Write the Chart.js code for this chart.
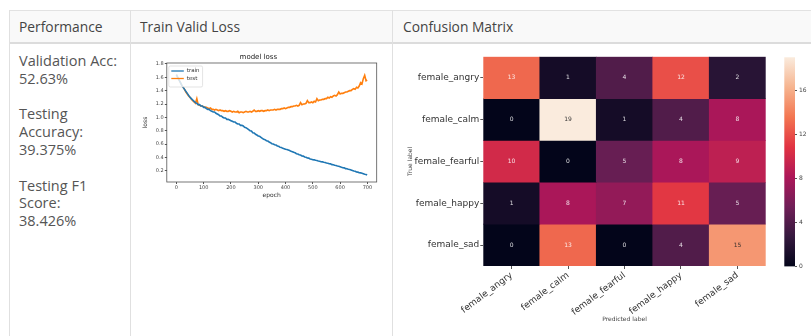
<!DOCTYPE html>
<html><head><meta charset="utf-8">
<script src="https://cdn.jsdelivr.net/npm/chart.js@4.4.1/dist/chart.umd.min.js"></script>
<style>
html,body{margin:0;padding:0;background:#fff;width:811px;height:336px;overflow:hidden;font-family:"Open Sans",sans-serif;}
.abs{position:absolute;}
.hdr{left:9px;top:10px;width:820px;height:31px;background:#f9f9f9;border-top:1px solid #e2e2e2;border-bottom:2px solid #dcdcdc;}
.vl{top:10px;width:1px;height:340px;background:#e0e0e0;}
.ht{top:11px;height:31px;line-height:31px;font-size:13.8px;color:#444;white-space:nowrap;}
.perf{left:19px;top:52px;font-size:14.5px;line-height:17.8px;color:#555;white-space:nowrap;}
canvas{position:absolute;}
</style></head>
<body>
<div class="abs hdr"></div>
<div class="abs vl" style="left:9px"></div>
<div class="abs vl" style="left:130px"></div>
<div class="abs vl" style="left:392px"></div>
<div class="abs ht" style="left:19px" id="h0"></div>
<div class="abs ht" style="left:140px" id="h1"></div>
<div class="abs ht" style="left:403px" id="h2"></div>
<div class="abs perf" id="perf"></div>
<canvas id="loss" width="245" height="160" style="left:140px;top:50px"></canvas>
<canvas id="cm" width="380" height="292" style="left:393px;top:44px"></canvas>
<canvas id="cbar" width="33" height="225" style="left:778px;top:50px"></canvas>
<script>
// ---------- data ----------
const columnHeaders = ['Performance', 'Train Valid Loss', 'Confusion Matrix'];
const metricLines = [['Validation Acc:', '52.63%'], ['Testing', 'Accuracy:', '39.375%'], ['Testing F1', 'Score:', '38.426%']];

const epochs = [0,5,10,15,20,25,30,35,40,45,50,55,60,65,70,75,80,85,90,95,
100,105,110,115,120,125,130,135,140,145,150,155,160,165,170,175,180,185,190,195,
200,205,210,215,220,225,230,235,240,245,250,255,260,265,270,275,280,285,290,295,
300,305,310,315,320,325,330,335,340,345,350,355,360,365,370,375,380,385,390,395,
400,405,410,415,420,425,430,435,440,445,450,455,460,465,470,475,480,485,490,495,
500,505,510,515,520,525,530,535,540,545,550,555,560,565,570,575,580,585,590,595,
600,605,610,615,620,625,630,635,640,645,650,655,660,665,670,675,680,685,690,695,699];

const trainLoss = [1.64,1.60,1.56,1.52,1.48,1.45,1.42,1.39,1.36,1.33,
1.30,1.28,1.26,1.24,1.22,1.21,1.19,1.19,1.17,1.17,
1.15,1.15,1.13,1.12,1.12,1.10,1.09,1.08,1.08,1.06,
1.05,1.04,1.02,1.02,1.00,0.99,0.99,0.97,0.97,0.96,
0.95,0.94,0.93,0.93,0.91,0.90,0.90,0.88,0.88,0.87,
0.85,0.845,0.83,0.815,0.80,0.795,0.77,0.765,0.745,0.735,
0.72,0.715,0.70,0.685,0.67,0.665,0.65,0.645,0.63,0.62,
0.605,0.60,0.59,0.585,0.57,0.565,0.55,0.548,0.535,0.53,
0.52,0.518,0.51,0.502,0.49,0.485,0.475,0.468,0.455,0.45,
0.44,0.434,0.42,0.418,0.405,0.402,0.39,0.388,0.375,0.372,
0.365,0.362,0.355,0.352,0.345,0.342,0.335,0.332,0.325,0.322,
0.315,0.312,0.305,0.302,0.29,0.288,0.28,0.277,0.27,0.267,
0.26,0.252,0.245,0.242,0.23,0.228,0.22,0.217,0.21,0.203,
0.195,0.192,0.18,0.178,0.17,0.167,0.16,0.153,0.145,0.142,0.135];

const validLoss = [1.64,1.60,1.56,1.52,1.48,1.45,1.42,1.38,1.35,1.32,
1.30,1.27,1.25,1.23,1.21,1.28,1.19,1.18,1.17,1.17,
1.16,1.15,1.15,1.14,1.13,1.14,1.12,1.12,1.11,1.12,
1.11,1.10,1.11,1.10,1.10,1.09,1.10,1.09,1.09,1.10,
1.09,1.08,1.09,1.08,1.08,1.09,1.07,1.08,1.08,1.07,
1.08,1.09,1.08,1.08,1.09,1.08,1.09,1.11,1.09,1.09,
1.10,1.09,1.10,1.10,1.09,1.10,1.10,1.11,1.10,1.11,
1.11,1.11,1.12,1.11,1.12,1.12,1.12,1.13,1.13,1.14,
1.13,1.14,1.15,1.15,1.16,1.16,1.17,1.17,1.18,1.17,
1.18,1.22,1.19,1.20,1.20,1.21,1.25,1.22,1.22,1.23,
1.22,1.24,1.23,1.28,1.25,1.26,1.26,1.27,1.27,1.28,
1.28,1.30,1.29,1.31,1.30,1.32,1.33,1.32,1.34,1.38,
1.35,1.36,1.36,1.37,1.38,1.38,1.39,1.40,1.40,1.42,
1.43,1.42,1.45,1.44,1.47,1.52,1.50,1.58,1.63,1.55,1.56];

const lossXTicks = [0, 100, 200, 300, 400, 500, 600, 700];
const lossYTicks = [0.2, 0.4, 0.6, 0.8, 1.0, 1.2, 1.4, 1.6, 1.8];

const predLabels = ['female_angry', 'female_calm', 'female_fearful', 'female_happy', 'female_sad'];
const trueLabels = ['female_angry', 'female_calm', 'female_fearful', 'female_happy', 'female_sad'];
const confusion = [
  [13, 1, 4, 12, 2],
  [0, 19, 1, 4, 8],
  [10, 0, 5, 8, 9],
  [1, 8, 7, 11, 5],
  [0, 13, 0, 4, 15]
];
const colorbarTicks = [0, 4, 8, 12, 16];
const colorMax = 19;

// ---------- page text ----------
columnHeaders.forEach((t, i) => document.getElementById('h' + i).textContent = t);
document.getElementById('perf').innerHTML = metricLines.map(g => g.join('<br>')).join('<br><br>');

// ---------- helpers ----------
const rocketStops = [[0,[3,5,26]],[1/7,[53,25,62]],[2/7,[112,31,87]],[3/7,[173,23,89]],[4/7,[225,51,66]],[5/7,[243,118,81]],[6/7,[246,180,143]],[1,[250,235,221]]];
function rocketRGB(t) {
  t = Math.max(0, Math.min(1, t));
  for (let i = 1; i < rocketStops.length; i++) {
    const [p1, c1] = rocketStops[i], [p0, c0] = rocketStops[i - 1];
    if (t <= p1) { const f = (t - p0) / (p1 - p0); return c0.map((c, k) => c + (c1[k] - c) * f); }
  }
  return rocketStops[rocketStops.length - 1][1];
}
const rocket = t => { const c = rocketRGB(t); return `rgb(${c.map(Math.round).join(',')})`; };
function lum(c) { const l = c.map(v => { v /= 255; return v <= 0.03928 ? v / 12.92 : Math.pow((v + 0.055) / 1.055, 2.4); }); return 0.2126 * l[0] + 0.7152 * l[1] + 0.0722 * l[2]; }

Chart.defaults.font.family = 'DejaVu Sans';
Chart.defaults.animation = false;

// ---------- loss chart ----------
const framePlugin = { id: 'frame', afterDatasetsDraw(chart) {
  const { ctx, chartArea: a } = chart; ctx.save(); ctx.strokeStyle = '#555'; ctx.lineWidth = 0.8;
  ctx.strokeRect(a.left, a.top, a.right - a.left, a.bottom - a.top); ctx.restore(); } };
const legendPlugin = { id: 'mplLegend', afterDatasetsDraw(chart) {
  const { ctx, chartArea: a } = chart; const ds = chart.data.datasets;
  ctx.save(); ctx.font = '5.5px "DejaVu Sans"';
  const tw = Math.max(...ds.map(d => ctx.measureText(d.label).width));
  const x = a.left + 2, y = a.top + 3, w = 21 + tw, h = 6 + ds.length * 7.5;
  ctx.fillStyle = 'rgba(255,255,255,0.8)'; ctx.strokeStyle = '#d0d0d0'; ctx.lineWidth = 0.6;
  ctx.beginPath(); ctx.roundRect(x, y, w, h, 1.5); ctx.fill(); ctx.stroke();
  ds.forEach((d, i) => {
    const ly = y + 5 + i * 7.5;
    ctx.strokeStyle = d.borderColor; ctx.lineWidth = 1.3;
    ctx.beginPath(); ctx.moveTo(x + 2.5, ly); ctx.lineTo(x + 15, ly); ctx.stroke();
    ctx.fillStyle = '#333'; ctx.textBaseline = 'middle'; ctx.fillText(d.label, x + 18, ly);
  });
  ctx.restore(); } };

new Chart(document.getElementById('loss'), {
  type: 'line',
  data: { datasets: [
    { label: 'train', data: epochs.map((e, i) => ({ x: e, y: trainLoss[i] })), borderColor: '#1f77b4', borderWidth: 1.6, pointRadius: 0, tension: 0 },
    { label: 'test', data: epochs.map((e, i) => ({ x: e, y: validLoss[i] })), borderColor: '#ff7f0e', borderWidth: 1.6, pointRadius: 0, tension: 0 }
  ] },
  options: {
    responsive: false, devicePixelRatio: 1,
    layout: { padding: { left: 0, right: 8.3, top: 0, bottom: 0 } },
    plugins: { legend: { display: false }, tooltip: { enabled: false },
      title: { display: true, text: 'model loss', font: { size: 7, weight: 'normal' }, color: '#222', padding: { top: 3, bottom: 1.6 } } },
    scales: {
      x: { type: 'linear', min: -35, max: 734,
        afterBuildTicks: s => { s.ticks = lossXTicks.map(v => ({ value: v })); },
        ticks: { font: { size: 5 }, color: '#444', maxRotation: 0, padding: 1 },
        grid: { display: true, drawOnChartArea: false, tickLength: 2, tickColor: '#555' }, border: { display: false },
        title: { display: true, text: 'epoch', font: { size: 6 }, color: '#333', padding: { top: 0, bottom: 10.7 } },
        afterFit: s => { s.height = 28; } },
      y: { min: 0.03, max: 1.815,
        afterBuildTicks: s => { s.ticks = lossYTicks.map(v => ({ value: v })); },
        ticks: { font: { size: 5 }, color: '#444', padding: 1, callback: v => v.toFixed(1) },
        grid: { display: true, drawOnChartArea: false, tickLength: 2, tickColor: '#555' }, border: { display: false },
        title: { display: true, text: 'loss', font: { size: 6 }, color: '#333', padding: { top: 1.4, bottom: 0 } },
        afterFit: s => { s.width = 26.8; } }
    }
  },
  plugins: [framePlugin, legendPlugin]
});

// ---------- confusion matrix ----------
const annotPlugin = { id: 'annot', afterDatasetsDraw(chart) {
  const { ctx } = chart; ctx.save(); ctx.font = '6px "DejaVu Sans"'; ctx.textAlign = 'center'; ctx.textBaseline = 'middle';
  chart.data.datasets.forEach((d, r) => {
    chart.getDatasetMeta(r).data.forEach((el, c) => {
      const v = confusion[r][c];
      ctx.fillStyle = lum(rocketRGB(v / colorMax)) > 0.408 ? 'rgba(38,38,38,0.9)' : 'rgba(255,255,255,0.85)';
      ctx.fillText(String(v), el.x, (el.y + el.base) / 2);
    });
  });
  ctx.restore(); } };

new Chart(document.getElementById('cm'), {
  type: 'bar',
  data: { labels: predLabels, datasets: trueLabels.map((t, r) => ({
    label: t, data: confusion[r].map(() => [r, r + 1]),
    backgroundColor: confusion[r].map(v => rocket(v / colorMax)), borderWidth: 0, borderSkipped: false,
    barPercentage: 1, categoryPercentage: 1, grouped: false })) },
  options: {
    responsive: false, devicePixelRatio: 1,
    layout: { padding: { left: 0, right: 7.3, top: 12.7, bottom: 0 } },
    plugins: { legend: { display: false }, tooltip: { enabled: false } },
    scales: {
      x: { ticks: { font: { size: 9 }, color: '#333', minRotation: 37, maxRotation: 37, autoSkip: false, padding: 1 },
        grid: { display: true, drawOnChartArea: false, offset: false, tickLength: 3, tickColor: '#555' }, border: { display: false },
        title: { display: true, text: 'Predicted label', font: { size: 6 }, color: '#444', padding: { top: 0, bottom: 13.1 } },
        afterFit: s => { s.height = 70; } },
      y: { type: 'linear', min: 0, max: 5, reverse: true,
        afterBuildTicks: s => { s.ticks = trueLabels.map((_, i) => ({ value: i + 0.5 })); },
        ticks: { font: { size: 9 }, color: '#333', padding: 1, callback: v => trueLabels[Math.floor(v)] },
        grid: { display: true, drawOnChartArea: false, tickLength: 3, tickColor: '#555' }, border: { display: false },
        title: { display: true, text: 'True label', font: { size: 6 }, color: '#444', padding: { top: 13.4, bottom: 0 } },
        afterFit: s => { s.width = 90.3; } }
    }
  },
  plugins: [annotPlugin]
});

// ---------- colorbar ----------
new Chart(document.getElementById('cbar'), {
  type: 'bar',
  data: { labels: [''], datasets: [{ data: [[0, colorMax]], borderWidth: 0, borderSkipped: false, barPercentage: 1, categoryPercentage: 1,
    backgroundColor: ctx => {
      const { chartArea: a, ctx: c } = ctx.chart; if (!a) return '#000';
      const g = c.createLinearGradient(0, a.bottom, 0, a.top);
      rocketStops.forEach(([p, col]) => g.addColorStop(p, `rgb(${col.join(',')})`));
      return g; } }] },
  options: {
    responsive: false, devicePixelRatio: 1,
    layout: { padding: { left: 6.3, top: 7.3, bottom: 8.3, right: 0 } },
    plugins: { legend: { display: false }, tooltip: { enabled: false } },
    scales: {
      x: { display: false },
      y: { position: 'right', min: 0, max: colorMax,
        afterBuildTicks: s => { s.ticks = colorbarTicks.map(v => ({ value: v })); },
        ticks: { font: { size: 6 }, color: '#444', padding: 2 },
        grid: { display: true, drawOnChartArea: false, tickLength: 2, tickColor: '#555' }, border: { display: false },
        afterFit: s => { s.width = 16; } }
    }
  }
});
</script>
</body></html>
